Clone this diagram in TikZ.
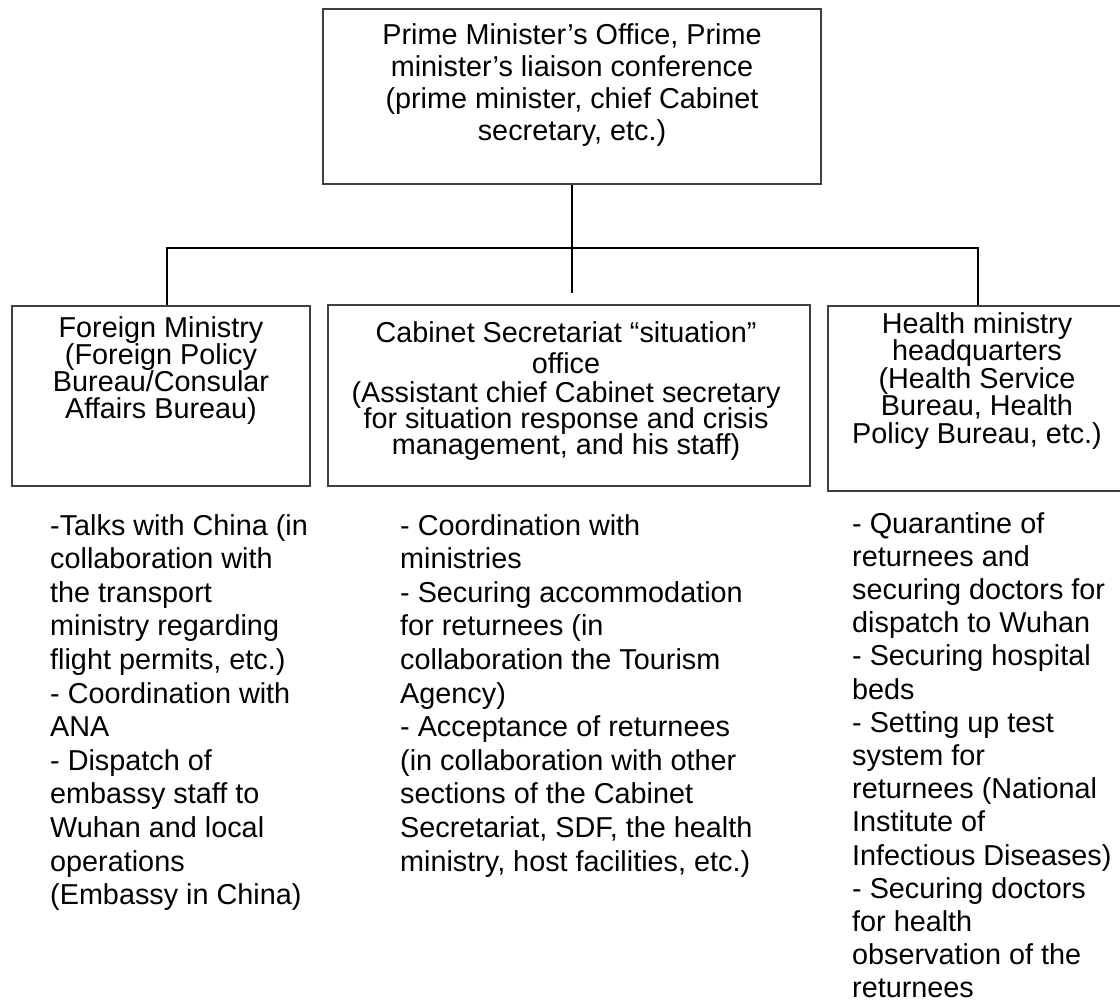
\documentclass[tikz,border=0pt]{standalone}
\usepackage{fontspec}
\setmainfont{Liberation Sans}
\begin{document}
\begin{tikzpicture}[x=1pt,y=-1pt,
  box/.style={draw=black!75,line width=1.1pt,inner sep=0pt},
  conn/.style={draw=black,line width=1.3pt},
  boxtext/.style={align=center,inner sep=0pt,anchor=base,
    font={\fontsize{28.8}{27}\selectfont\lineskiplimit=-100pt}},
  coltext/.style={align=left,inner sep=0pt,anchor=base west,
    font={\fontsize{28.8}{33.6}\selectfont\lineskiplimit=-100pt}}]
\useasboundingbox (0,0) rectangle (1120,1006);
% boxes
\node[box,minimum width=498pt,minimum height=175pt] (pm) at (572,96.5) {};
\node[box,minimum width=298pt,minimum height=180pt] (fm) at (161,396) {};
\node[box,minimum width=482pt,minimum height=181pt] (cs) at (569,395.5) {};
\node[box,minimum width=293pt,minimum height=185pt] (hm) at (974.5,398.5) {};
% box texts (anchor base = baseline of last line)
\node[boxtext,font={\fontsize{28.8}{31.7}\selectfont\lineskiplimit=-100pt}] (pmt) at (572,140.1)
  {Prime Minister’s Office, Prime\\minister’s liaison conference\\(prime minister, chief Cabinet\\secretary, etc.)};
\node[boxtext] (fmt) at (161,418)
  {Foreign Ministry\\(Foreign Policy\\Bureau/Consular\\Affairs Bureau)};
\node[boxtext,font={\fontsize{28.8}{26}\selectfont\lineskiplimit=-100pt}] (cst) at (566,454)
  {Cabinet Secretariat “situation”\\[5pt]office\\[3pt](Assistant chief Cabinet secretary\\for situation response and crisis\\management, and his staff)};
\node[boxtext,font={\fontsize{28.8}{27.5}\selectfont\lineskiplimit=-100pt}] (hmt) at (977,443)
  {Health ministry\\headquarters\\(Health Service\\Bureau, Health\\Policy Bureau, etc.)};
% connectors
\coordinate (mend) at (572,293);
\coordinate (jl) at (167,248);
\coordinate (jr) at (978,248);
\draw[conn] (pm.south) -- (mend);
\draw[conn] (jl |- fm.north) -- (jl) -- (jr) -- (jr |- hm.north);
% column texts (anchor base = baseline of last line)
\node[coltext] (fml) at (50,904.6)
  {-Talks with China (in\\collaboration with\\the transport\\ministry regarding\\flight permits, etc.)\\- Coordination with\\ANA\\- Dispatch of\\embassy staff to\\Wuhan and local\\operations\\(Embassy in China)};
\node[coltext] (csl) at (400,871)
  {- Coordination with\\ministries\\- Securing accommodation\\for returnees (in\\collaboration the Tourism\\Agency)\\- Acceptance of returnees\\(in collaboration with other\\sections of the Cabinet\\Secretariat, SDF, the health\\ministry, host facilities, etc.)};
\node[coltext,font={\fontsize{28.8}{33.2}\selectfont\lineskiplimit=-100pt}] (hml) at (852,997.8)
  {- Quarantine of\\returnees and\\securing doctors for\\dispatch to Wuhan\\- Securing hospital\\beds\\- Setting up test\\system for\\returnees (National\\Institute of\\Infectious Diseases)\\- Securing doctors\\for health\\observation of the\\returnees};
\end{tikzpicture}
\end{document}
